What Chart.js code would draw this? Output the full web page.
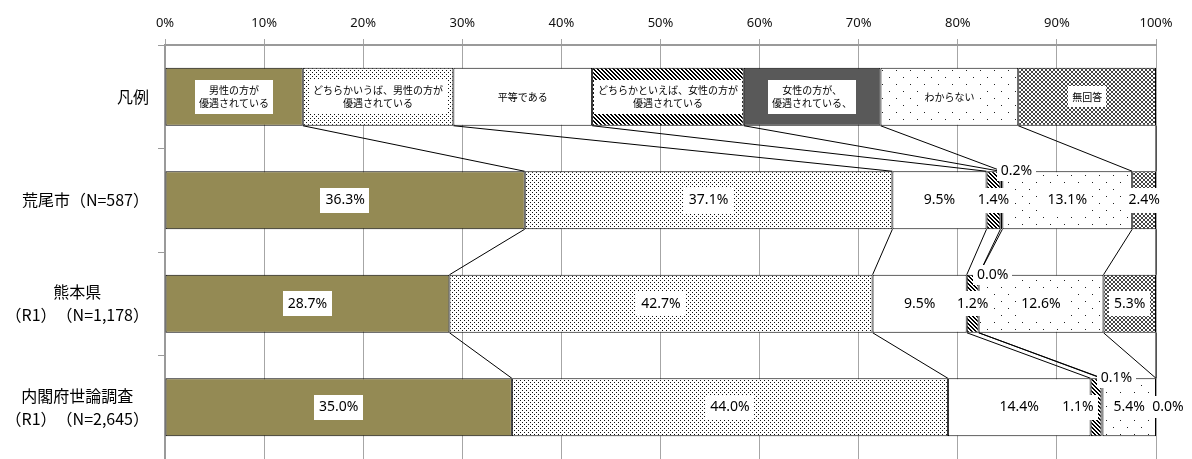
<!DOCTYPE html>
<html lang="ja">
<head>
<meta charset="UTF-8">
<title>男女の地位の平等感</title>
<style>
  html, body { margin: 0; padding: 0; background: #fff; }
  #chart { display: block; }
</style>
</head>
<body>
<canvas id="chart" width="1192" height="459"></canvas>
<script src="https://cdn.jsdelivr.net/npm/chart.js"></script>
<script>
// 行ラベル（複数行はそのまま配列で）
const categories = [
  ['凡例'],
  ['荒尾市（N=587）'],
  ['熊本県', '（R1）　（N=1,178）'],
  ['内閣府世論調査', '（R1）　（N=2,645）'],
];

// 回答区分
const answers = [
  '男性の方が優遇されている',
  'どちらかいうば、男性の方が優遇されている',
  '平等である',
  'どちらかといえば、女性の方が優遇されている',
  '女性の方が、優遇されている、',
  'わからない',
  '無回答',
];

// 凡例行の中に書く文字
const legendLines = [
  ['男性の方が', '優遇されている'],
  ['どちらかいうば、男性の方が', '優遇されている'],
  ['平等である'],
  ['どちらかといえば、女性の方が', '優遇されている'],
  ['女性の方が、', '優遇されている、'],
  ['わからない'],
  ['無回答'],
];

// 凡例行の各区分の幅（%）
const legendWidths = [13.9, 15.2, 14.0, 15.3, 13.8, 13.9, 13.9];

// 調査結果（%）
const araoValues = [36.3, 37.1, 9.5, 1.4, 0.2, 13.1, 2.4];
const kumamotoValues = [28.7, 42.7, 9.5, 1.2, 0.0, 12.6, 5.3];
const naikakufuValues = [35.0, 44.0, 14.4, 1.1, 0.1, 5.4, 0.0];

const tickStep = 10;

// ---- 塗りパターン ----
function makePattern(rows, fg, bg) {
  const c = document.createElement('canvas');
  c.width = rows[0].length;
  c.height = rows.length;
  const g = c.getContext('2d');
  g.fillStyle = bg;
  g.fillRect(0, 0, c.width, c.height);
  g.fillStyle = fg;
  rows.forEach((row, y) => {
    for (let x = 0; x < row.length; x++) {
      if (row[x] === 'x') g.fillRect(x, y, 1, 1);
    }
  });
  return g.createPattern(c, 'repeat');
}

const denseDots = makePattern(['x...', '....', '..x.', '....'], '#111', '#fff');
const stripes = makePattern(['xx..', '.xx.', '..xx', 'x..x'], '#000', '#fff');
const sparseRows = [];
for (let y = 0; y < 14; y++) {
  let row = '';
  for (let x = 0; x < 14; x++) row += (x === 0 && y === 0) || (x === 7 && y === 7) ? 'x' : '.';
  sparseRows.push(row);
}
const sparseDots = makePattern(sparseRows, '#222', '#fff');
const lattice = makePattern(['x..x', '.xx.', '.xx.', 'x..x'], '#444', '#fff');

const fills = ['#948A54', denseDots, '#ffffff', stripes, '#595959', sparseDots, lattice];

const datasets = answers.map((name, i) => ({
  label: name,
  data: [legendWidths[i], araoValues[i], kumamotoValues[i], naikakufuValues[i]],
  backgroundColor: fills[i],
  borderColor: '#000',
  borderWidth: 1,
  borderSkipped: false,
  barPercentage: 0.56,
  categoryPercentage: 1,
}));

// ---- 棒と棒をつなぐ区分線 ----
const seriesLines = {
  id: 'seriesLines',
  afterDatasetsDraw(chart) {
    const ctx = chart.ctx;
    ctx.save();
    ctx.strokeStyle = '#000';
    ctx.lineWidth = 1;
    for (let r = 0; r < categories.length - 1; r++) {
      for (let k = 0; k < answers.length; k++) {
        const meta = chart.getDatasetMeta(k);
        const a = meta.data[r].getProps(['x', 'y', 'height'], true);
        const b = meta.data[r + 1].getProps(['x', 'y', 'height'], true);
        ctx.beginPath();
        ctx.moveTo(a.x, a.y + a.height / 2);
        ctx.lineTo(b.x, b.y - b.height / 2);
        ctx.stroke();
      }
    }
    ctx.restore();
  },
};

// 白地の枠付き文字
function boxedText(ctx, lines, cx, cy, lineH, padX, boxH) {
  const w = Math.max(...lines.map((t) => ctx.measureText(t).width));
  const h = boxH || lines.length * lineH + 8;
  ctx.fillStyle = '#fff';
  ctx.fillRect(Math.round(cx - w / 2 - padX), Math.round(cy - h / 2), Math.round(w + padX * 2), Math.round(h));
  ctx.fillStyle = '#000';
  lines.forEach((t, i) => {
    ctx.fillText(t, cx, cy + (i - (lines.length - 1) / 2) * lineH);
  });
}

// 混み合うラベルの横ずらし（行-区分）
const labelShift = { '3-3': -18 };

const valueLabels = {
  id: 'valueLabels',
  afterDatasetsDraw(chart) {
    const ctx = chart.ctx;
    ctx.save();
    ctx.textAlign = 'center';
    ctx.textBaseline = 'middle';
    answers.forEach((name, k) => {
      const meta = chart.getDatasetMeta(k);
      meta.data.forEach((el, r) => {
        const p = el.getProps(['x', 'base', 'y', 'height'], true);
        const cx = (p.x + p.base) / 2;
        if (r === 0) {
          ctx.font = '10px "Noto Sans CJK JP"';
          boxedText(ctx, legendLines[k], cx, p.y, 13, 4);
          return;
        }
        const v = chart.data.datasets[k].data[r];
        const text = v.toFixed(1) + '%';
        ctx.font = '14px "Noto Sans", "Noto Sans CJK JP"';
        if (k === 4) {
          // 女性の方が優遇：棒の上端に出す
          boxedText(ctx, [text], p.x + 14, p.y - p.height / 2, 16, 4, 20);
        } else if (k === answers.length - 1 && v === 0) {
          boxedText(ctx, [text], p.x + 12, p.y, 16, 3, 22);
        } else {
          const shift = labelShift[r + '-' + k] || 0;
          boxedText(ctx, [text], cx + shift, p.y, 16, 5, 25);
        }
      });
    });
    ctx.restore();
  },
};

// 左側の行ラベル（右寄せのブロック内で各行を中央揃え）
const rowLabels = {
  id: 'rowLabels',
  afterDraw(chart) {
    const ctx = chart.ctx;
    const yScale = chart.scales.y;
    ctx.save();
    ctx.font = '16px "Noto Sans CJK JP"';
    ctx.fillStyle = '#000';
    ctx.textAlign = 'center';
    ctx.textBaseline = 'middle';
    const right = yScale.right - 16;
    categories.forEach((lines, i) => {
      const y = yScale.getPixelForValue(i);
      const w = Math.max(...lines.map((t) => ctx.measureText(t).width));
      const cx = right - w / 2;
      lines.forEach((t, j) => {
        ctx.fillText(t, cx, y + (j - (lines.length - 1) / 2) * 23);
      });
    });
    ctx.restore();
  },
};

new Chart(document.getElementById('chart'), {
  type: 'bar',
  data: {
    labels: categories.map((c) => c.join(' ')),
    datasets: datasets,
  },
  options: {
    indexAxis: 'y',
    responsive: false,
    animation: false,
    layout: { padding: { left: 0, right: 36, top: 0, bottom: 0 } },
    plugins: {
      legend: { display: false },
      tooltip: { enabled: false },
    },
    scales: {
      x: {
        position: 'top',
        stacked: true,
        min: 0,
        max: 100,
        ticks: {
          stepSize: tickStep,
          callback: (v) => v + '%',
          color: '#111',
          font: { family: '"Noto Sans"', size: 13 },
          padding: 8,
        },
        grid: { color: '#a6a6a6', lineWidth: 1, tickLength: 6 },
        border: { color: '#9a9a9a', width: 2 },
        afterFit(scale) { scale.height = 45; },
      },
      y: {
        stacked: true,
        ticks: { display: false },
        grid: { offset: true, drawOnChartArea: false, color: '#9a9a9a', tickLength: 7 },
        border: { color: '#9a9a9a', width: 2 },
        afterFit(scale) { scale.width = 165; },
      },
    },
  },
  plugins: [seriesLines, valueLabels, rowLabels],
});
</script>
</body>
</html>
